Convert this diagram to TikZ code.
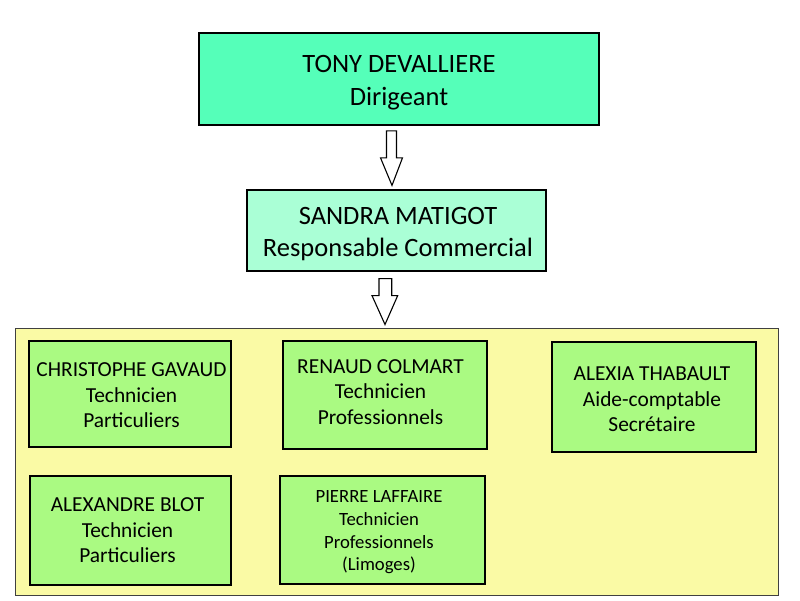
\documentclass[tikz,border=0pt]{standalone}
\usepackage{fontspec}
\setmainfont{Carlito}
\usetikzlibrary{calc}
\definecolor{topfill}{RGB}{85,255,185}
\definecolor{secfill}{RGB}{170,255,214}
\definecolor{staff}{RGB}{170,250,130}
\definecolor{panel}{RGB}{250,250,165}
\tikzset{
  bigbox/.style={draw=black, line width=1.6pt, align=center, inner sep=0pt},
  staffbox/.style={draw=black, line width=1.2pt, fill=staff, align=center, inner sep=0pt},
  blockarrow/.style={draw=black, line width=1.1pt, fill=white, line join=miter},
  bigtext/.style={font=\fontsize{26.5}{33}\selectfont, align=center, inner sep=0pt},
  midtext/.style={font=\fontsize{26.5}{32}\selectfont, align=center, inner sep=0pt},
  stafftext/.style={font=\fontsize{21.4}{25.5}\selectfont, align=center, inner sep=0pt},
  smalltext/.style={font=\fontsize{18.7}{22.7}\selectfont, align=center, inner sep=0pt}
}
\begin{document}
\begin{tikzpicture}[x=1pt,y=-1pt]
\useasboundingbox (0,0) rectangle (800,600);
% top
\node[bigbox, fill=topfill, minimum width=400pt, minimum height=92pt] (tony) at (399,79) {};
\node[bigtext] (tonyt) at (399,83) {TONY DEVALLIERE\\Dirigeant};
\node[bigbox, line width=1.2pt, fill=secfill, minimum width=299pt, minimum height=81pt] (sandra) at (396.5,230.5) {};
\node[midtext] (sandrat) at (398,234) {SANDRA MATIGOT\\Responsable Commercial};
% panel
\node[draw=black!75, line width=1pt, fill=panel, minimum width=763pt, minimum height=267pt, inner sep=0pt] (panel) at (396.5,461.5) {};
% arrow 1
\draw[blockarrow]
  ($(tony.south)+(-12.5,5)$) -- ($(tony.south)+(-2.5,5)$) -- ($(tony.south)+(-2.5,32)$)
  -- ($(tony.south)+(3.5,32)$) -- ($(sandra.north)+(-4.5,-4)$) -- ($(tony.south)+(-18.5,32)$)
  -- ($(tony.south)+(-12.5,32)$) -- cycle;
% arrow 2
\draw[blockarrow]
  ($(sandra.south)+(-17.5,7)$) -- ($(sandra.south)+(-4.8,7)$) -- ($(sandra.south)+(-4.8,24)$)
  -- ($(sandra.south)+(1.2,24)$) -- ($(panel.north)+(-11.5,-3)$) -- ($(sandra.south)+(-24.5,24)$)
  -- ($(sandra.south)+(-17.5,24)$) -- cycle;
% staff
\node[staffbox, minimum width=202pt, minimum height=106pt] (chris) at (130,394) {};
\node[stafftext] (christ) at (131.5,395.5) {CHRISTOPHE GAVAUD\\Technicien\\Particuliers};
\node[staffbox, minimum width=204pt, minimum height=108pt] (renaud) at (385,395) {};
\node[stafftext] (renaudt) at (380.5,392) {RENAUD COLMART\\Technicien\\Professionnels};
\node[staffbox, minimum width=204pt, minimum height=110pt] (alexia) at (654,397) {};
\node[stafftext] (alexiat) at (652,399.5) {ALEXIA THABAULT\\Aide-comptable\\Secrétaire};
\node[staffbox, minimum width=201pt, minimum height=109pt] (alex) at (130.5,530.5) {};
\node[stafftext] (alext) at (127.5,530.5) {ALEXANDRE BLOT\\Technicien\\Particuliers};
\node[staffbox, minimum width=205pt, minimum height=108pt] (pierre) at (382.5,530) {};
\node[smalltext] (pierret) at (379,532.5) {PIERRE LAFFAIRE\\Technicien\\Professionnels\\(Limoges)};
\end{tikzpicture}
\end{document}
